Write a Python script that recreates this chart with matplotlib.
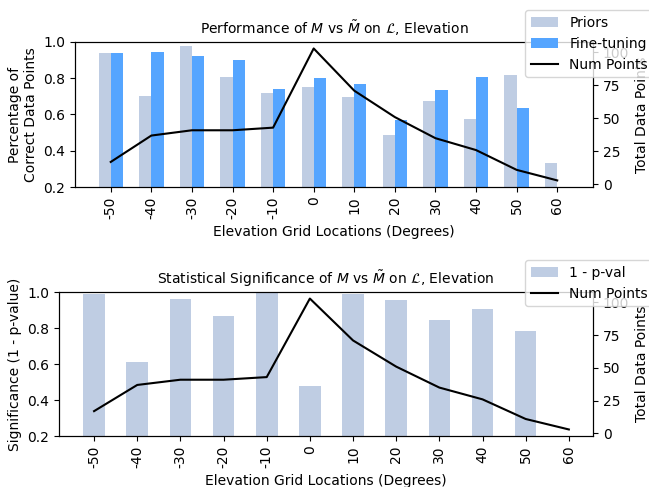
import matplotlib
matplotlib.use("Agg")
import matplotlib.pyplot as plt
import numpy as np

elevations = [-50, -40, -30, -20, -10, 0, 10, 20, 30, 40, 50, 60]
priors = [0.941, 0.70, 0.976, 0.804, 0.719, 0.754, 0.698, 0.489, 0.676, 0.576, 0.815, 0.333]
fine_tuning = [0.941, 0.946, 0.924, 0.902, 0.743, 0.802, 0.770, 0.567, 0.737, 0.807, 0.637, 0.0]
num_points = [17, 37, 41, 41, 43, 103, 71, 51, 35, 26, 11, 3]
signif = [0.991, 0.611, 0.961, 0.869, 0.993, 0.480, 0.991, 0.957, 0.844, 0.904, 0.785]

c_prior = '#bfcde3'
c_fine = '#55a5ff'

plt.rcParams['axes.titlesize'] = 10

x = np.arange(len(elevations))

fig = plt.figure(figsize=(6.49, 4.87), dpi=100)

# top: performance
ax = fig.add_axes([0.1156, 0.616, 0.798, 0.298])
b1 = ax.bar(x - 0.15, priors, width=0.3, color=c_prior, label='Priors')
b2 = ax.bar(x + 0.15, fine_tuning, width=0.3, color=c_fine, label='Fine-tuning')
ax.set_ylim(0.2, 1.0)
ax.set_xticks(x)
ax.set_xticklabels(elevations, rotation=90)
ax.set_xlabel('Elevation Grid Locations (Degrees)')
ax.set_ylabel('Percentage of\nCorrect Data Points')
ax.set_title(r'Performance of $M$ vs $\tilde{M}$ on $\mathcal{L}$, Elevation')
ax2 = ax.twinx()
l1, = ax2.plot(x, num_points, color='black', label='Num Points')
ax2.set_ylabel('Total Data Points')
ax2.legend([b1, b2, l1], ['Priors', 'Fine-tuning', 'Num Points'],
           loc='upper left', bbox_to_anchor=(0.809, 0.979),
           bbox_transform=fig.transFigure, borderaxespad=0)

# bottom: significance
bx = fig.add_axes([0.0909, 0.1047, 0.823, 0.2957])
b3 = bx.bar(x[:len(signif)], signif, width=0.5, color=c_prior, label='1 - p-val')
bx.set_ylim(0.2, 1.0)
bx.set_xticks(x)
bx.set_xticklabels(elevations, rotation=90)
bx.set_xlabel('Elevation Grid Locations (Degrees)')
bx.set_ylabel('Significance (1 - p-value)')
bx.set_title(r'Statistical Significance of $M$ vs $\tilde{M}$ on $\mathcal{L}$, Elevation')
bx2 = bx.twinx()
l2, = bx2.plot(x, num_points, color='black', label='Num Points')
bx2.set_ylabel('Total Data Points')
bx2.legend([b3, l2], ['1 - p-val', 'Num Points'],
           loc='upper left', bbox_to_anchor=(0.809, 0.466),
           bbox_transform=fig.transFigure, borderaxespad=0)

fig.savefig('out.png', dpi=100)
